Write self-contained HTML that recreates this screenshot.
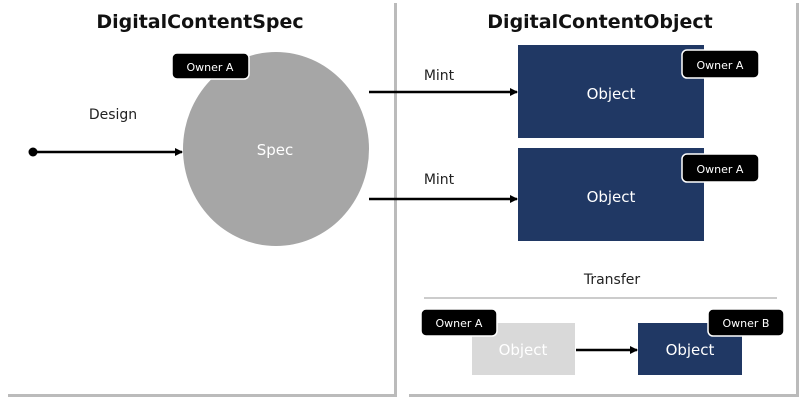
<!DOCTYPE html>
<html><head><style>body{margin:0;background:#fff}svg{display:block}text{font-family:"DejaVu Sans","Liberation Sans",sans-serif}</style></head>
<body>
<svg width="800" height="400" viewBox="0 0 800 400" xmlns="http://www.w3.org/2000/svg">
<defs>
<marker id="ah" markerWidth="8" markerHeight="8" refX="7" refY="4" orient="auto" markerUnits="userSpaceOnUse"><path d="M0,0 L8,4 L0,8 z" fill="#000"/></marker>
</defs>
<rect x="8" y="3" width="389" height="394" fill="#bbb"/>
<rect x="5" y="0" width="389" height="394" fill="#fff"/>
<rect x="409" y="3" width="390" height="394" fill="#bbb"/>
<rect x="406" y="0" width="390" height="394" fill="#fff"/>
<text x="200" y="28" font-size="19" font-weight="bold" text-anchor="middle" fill="#111">DigitalContentSpec</text>
<text x="600" y="28" font-size="19" font-weight="bold" text-anchor="middle" fill="#111">DigitalContentObject</text>
<ellipse cx="276" cy="149" rx="93" ry="97" fill="#a6a6a6"/>
<text x="275" y="155" font-size="15" fill="#fff" text-anchor="middle">Spec</text>
<rect x="172" y="53" width="77" height="26" rx="5" fill="#000" stroke="#fff" stroke-width="1.5"/>
<text x="210" y="71" font-size="11" fill="#fff" text-anchor="middle">Owner A</text>
<text x="113" y="119" font-size="14" fill="#222" text-anchor="middle">Design</text>
<circle cx="33" cy="152" r="4.5" fill="#000"/>
<line x1="33" y1="152" x2="182" y2="152" stroke="#000" stroke-width="2.5" marker-end="url(#ah)"/>
<line x1="369" y1="92" x2="517" y2="92" stroke="#000" stroke-width="2.5" marker-end="url(#ah)"/>
<line x1="369" y1="199" x2="517" y2="199" stroke="#000" stroke-width="2.5" marker-end="url(#ah)"/>
<text x="439" y="80" font-size="14" fill="#222" text-anchor="middle">Mint</text>
<text x="439" y="184" font-size="14" fill="#222" text-anchor="middle">Mint</text>
<rect x="518" y="45" width="186" height="93" fill="#203864"/>
<text x="611" y="99" font-size="15" fill="#fff" text-anchor="middle">Object</text>
<rect x="682" y="50" width="77" height="28" rx="5" fill="#000" stroke="#fff" stroke-width="1.5"/>
<text x="720" y="69" font-size="11" fill="#fff" text-anchor="middle">Owner A</text>
<rect x="518" y="148" width="186" height="93" fill="#203864"/>
<text x="611" y="202" font-size="15" fill="#fff" text-anchor="middle">Object</text>
<rect x="682" y="154" width="77" height="28" rx="5" fill="#000" stroke="#fff" stroke-width="1.5"/>
<text x="720" y="173" font-size="11" fill="#fff" text-anchor="middle">Owner A</text>
<text x="612" y="284" font-size="14" fill="#222" text-anchor="middle">Transfer</text>
<line x1="424" y1="298" x2="777" y2="298" stroke="#bbb" stroke-width="1.5"/>
<rect x="472" y="323" width="103" height="52" fill="#d9d9d9"/>
<text x="523" y="355" font-size="15" fill="#fff" text-anchor="middle">Object</text>
<rect x="638" y="323" width="104" height="52" fill="#203864"/>
<text x="690" y="355" font-size="15" fill="#fff" text-anchor="middle">Object</text>
<line x1="576" y1="350" x2="637" y2="350" stroke="#000" stroke-width="2.5" marker-end="url(#ah)"/>
<rect x="421" y="309" width="76" height="27" rx="5" fill="#000" stroke="#fff" stroke-width="1.5"/>
<text x="459" y="327" font-size="11" fill="#fff" text-anchor="middle">Owner A</text>
<rect x="708" y="309" width="76" height="27" rx="5" fill="#000" stroke="#fff" stroke-width="1.5"/>
<text x="746" y="327" font-size="11" fill="#fff" text-anchor="middle">Owner B</text>
</svg>
</body></html>
